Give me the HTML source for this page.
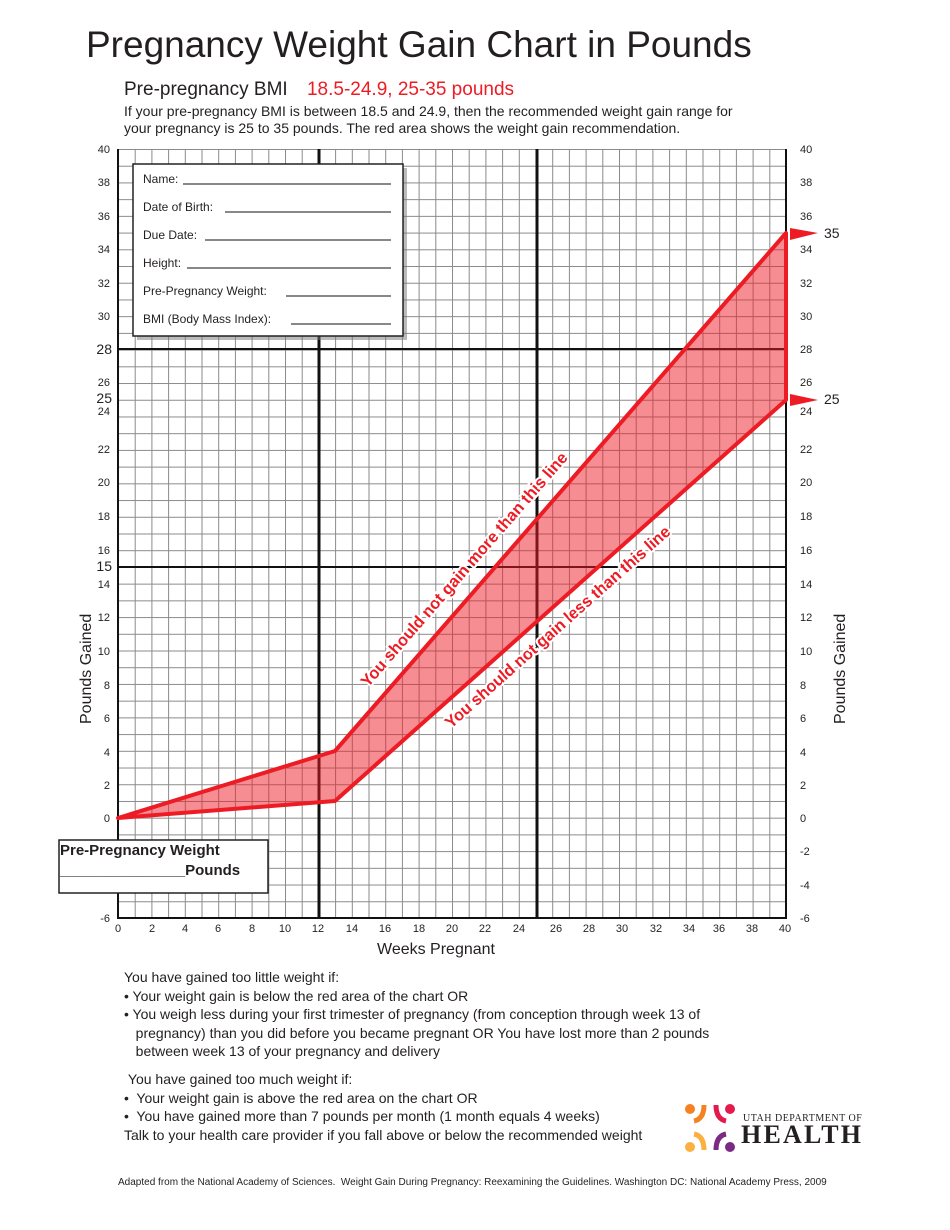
<!DOCTYPE html>
<html><head><meta charset="utf-8"><style>
body{margin:0;width:950px;height:1230px;background:#fff;font-family:"Liberation Sans",sans-serif;position:relative;overflow:hidden}
.a{position:absolute;white-space:nowrap}
</style></head><body>
<div class="a" style="left:86px;top:24px;font-size:37px;color:#231f20">Pregnancy Weight Gain Chart in Pounds</div>
<div class="a" style="left:124px;top:79px;font-size:19px;color:#231f20">Pre-pregnancy BMI <span style="color:#ed1c24;margin-left:14px">18.5-24.9, 25-35 pounds</span></div>
<div class="a" style="left:124px;top:103px;font-size:14px;line-height:17px;color:#231f20">If your pre-pregnancy BMI is between 18.5 and 24.9, then the recommended weight gain range for<br>your pregnancy is 25 to 35 pounds. The red area shows the weight gain recommendation.</div>
<svg class="a" style="left:0;top:0" width="950" height="1230" font-family="Liberation Sans, sans-serif">
<defs><pattern id="g" x="118" y="149" width="16.7" height="16.717" patternUnits="userSpaceOnUse"><path d="M0 0V16.717M0 0H16.7" stroke="#8a8a8a" stroke-width="2" fill="none"/></pattern></defs>
<rect x="118" y="149" width="668" height="769" fill="url(#g)"/>
<line x1="319" y1="149" x2="319" y2="918" stroke="#111" stroke-width="3"/>
<line x1="537" y1="149" x2="537" y2="918" stroke="#111" stroke-width="3"/>
<line x1="118" y1="349" x2="786" y2="349" stroke="#111" stroke-width="2"/>
<line x1="118" y1="567" x2="786" y2="567" stroke="#111" stroke-width="2"/>
<path d="M118 149V918H786V149" fill="none" stroke="#111" stroke-width="2"/>
<polygon points="118,818 335,751 786,233 786,400 335,801" fill="#ee1c25" fill-opacity="0.5" stroke="#ed1c24" stroke-width="4" stroke-linejoin="round"/>
<polygon points="790,228 818,233 790,240" fill="#ed1c24"/>
<polygon points="790,394 818,400 790,406" fill="#ed1c24"/>
<text x="824" y="238" font-size="14" fill="#231f20">35</text>
<text x="824" y="404" font-size="14" fill="#231f20">25</text>
<g font-size="11" fill="#231f20" text-anchor="end">
<text x="110" y="153">40</text><text x="110" y="186">38</text><text x="110" y="220">36</text><text x="110" y="253">34</text><text x="110" y="287">32</text><text x="110" y="320">30</text><text x="110" y="386">26</text><text x="110" y="415">24</text><text x="110" y="453">22</text><text x="110" y="486">20</text><text x="110" y="520">18</text><text x="110" y="554">16</text><text x="110" y="588">14</text><text x="110" y="621">12</text><text x="110" y="655">10</text><text x="110" y="689">8</text><text x="110" y="722">6</text><text x="110" y="756">4</text><text x="110" y="789">2</text><text x="110" y="822">0</text><text x="110" y="922">-6</text>
</g>
<g font-size="14" fill="#231f20" text-anchor="end"><text x="112" y="354">28</text><text x="112" y="403">25</text><text x="112" y="571">15</text></g>
<g font-size="11" fill="#231f20">
<text x="800" y="153">40</text><text x="800" y="186">38</text><text x="800" y="220">36</text><text x="800" y="253">34</text><text x="800" y="287">32</text><text x="800" y="320">30</text><text x="800" y="353">28</text><text x="800" y="386">26</text><text x="800" y="415">24</text><text x="800" y="453">22</text><text x="800" y="486">20</text><text x="800" y="520">18</text><text x="800" y="554">16</text><text x="800" y="588">14</text><text x="800" y="621">12</text><text x="800" y="655">10</text><text x="800" y="689">8</text><text x="800" y="722">6</text><text x="800" y="756">4</text><text x="800" y="789">2</text><text x="800" y="822">0</text><text x="800" y="855">-2</text><text x="800" y="889">-4</text><text x="800" y="922">-6</text>
</g>
<g font-size="11" fill="#231f20" text-anchor="middle">
<text x="118" y="932">0</text><text x="152" y="932">2</text><text x="185" y="932">4</text><text x="218" y="932">6</text><text x="252" y="932">8</text><text x="285" y="932">10</text><text x="318" y="932">12</text><text x="352" y="932">14</text><text x="385" y="932">16</text><text x="419" y="932">18</text><text x="452" y="932">20</text><text x="485" y="932">22</text><text x="519" y="932">24</text><text x="556" y="932">26</text><text x="589" y="932">28</text><text x="622" y="932">30</text><text x="656" y="932">32</text><text x="689" y="932">34</text><text x="719" y="932">36</text><text x="752" y="932">38</text><text x="785" y="932">40</text>
</g>
<text x="377" y="954" font-size="16" fill="#231f20">Weeks Pregnant</text>
<text transform="translate(91,724) rotate(-90)" font-size="16" fill="#231f20">Pounds Gained</text>
<text transform="translate(845,724) rotate(-90)" font-size="16" fill="#231f20">Pounds Gained</text>
<text transform="translate(368,688) rotate(-48.9)" font-size="16.5" font-weight="bold" fill="#ed1c24" stroke="#fff" stroke-width="4" paint-order="stroke" textLength="305">You should not gain more than this line</text>
<text transform="translate(451,729) rotate(-41.6)" font-size="16.5" font-weight="bold" fill="#ed1c24" stroke="#fff" stroke-width="4" paint-order="stroke" textLength="295">You should not gain less than this line</text>
<rect x="137" y="168" width="270" height="172" fill="#777" opacity="0.5"/>
<rect x="133" y="164" width="270" height="172" fill="#fff" stroke="#222" stroke-width="1.5"/>
<g font-size="12" fill="#231f20">
<text x="143" y="183">Name:</text><line x1="183" y1="184" x2="391" y2="184" stroke="#111"/>
<text x="143" y="211">Date of Birth:</text><line x1="225" y1="212" x2="391" y2="212" stroke="#111"/>
<text x="143" y="239">Due Date:</text><line x1="205" y1="240" x2="391" y2="240" stroke="#111"/>
<text x="143" y="267">Height:</text><line x1="187" y1="268" x2="391" y2="268" stroke="#111"/>
<text x="143" y="295">Pre-Pregnancy Weight:</text><line x1="286" y1="296" x2="391" y2="296" stroke="#111"/>
<text x="143" y="323">BMI (Body Mass Index):</text><line x1="291" y1="324" x2="391" y2="324" stroke="#111"/>
</g>
<rect x="59" y="840" width="209" height="53" fill="#fff" stroke="#222" stroke-width="1.5"/>
<text x="60" y="855" font-size="15" font-weight="bold" fill="#231f20">Pre-Pregnancy Weight</text>
<text x="60" y="875" font-size="15" font-weight="bold" fill="#231f20">_______________Pounds</text>
<circle cx="690" cy="1109" r="5" fill="#f58220"/><path d="M694 1121q10 -2 10 -16" stroke="#f58220" stroke-width="5" fill="none"/>
<circle cx="730" cy="1109" r="5" fill="#e31b4d"/><path d="M716 1105q0 14 10 16" stroke="#e31b4d" stroke-width="5" fill="none"/>
<circle cx="690" cy="1147" r="5" fill="#fbb040"/><path d="M694 1134q10 2 10 16" stroke="#fbb040" stroke-width="5" fill="none"/>
<circle cx="730" cy="1147" r="5" fill="#7b2a83"/><path d="M716 1150q0 -14 10 -16" stroke="#7b2a83" stroke-width="5" fill="none"/>
<text x="743" y="1121" font-size="10" font-family="Liberation Serif, serif" fill="#231f20" letter-spacing="0.5">UTAH DEPARTMENT OF</text>
<text x="741" y="1143" font-size="26" font-weight="bold" font-family="Liberation Serif, serif" fill="#231f20" textLength="120">HEALTH</text>
</svg>
<div class="a" style="left:124px;top:968px;font-size:14px;line-height:18.5px;color:#231f20">You have gained too little weight if:<br>• Your weight gain is below the red area of the chart OR<br>• You weigh less during your first trimester of pregnancy (from conception through week 13 of<br>&nbsp;&nbsp;&nbsp;pregnancy) than you did before you became pregnant OR You have lost more than 2 pounds<br>&nbsp;&nbsp;&nbsp;between week 13 of your pregnancy and delivery</div>
<div class="a" style="left:124px;top:1070px;font-size:14px;line-height:18.5px;color:#231f20">&nbsp;You have gained too much weight if:<br>•&nbsp; Your weight gain is above the red area on the chart OR<br>•&nbsp; You have gained more than 7 pounds per month (1 month equals 4 weeks)<br>Talk to your health care provider if you fall above or below the recommended weight</div>
<div class="a" style="left:118px;top:1177px;font-size:10px;color:#231f20">Adapted from the National Academy of Sciences.&nbsp; Weight Gain During Pregnancy: Reexamining the Guidelines. Washington DC: National Academy Press, 2009</div>
</body></html>
